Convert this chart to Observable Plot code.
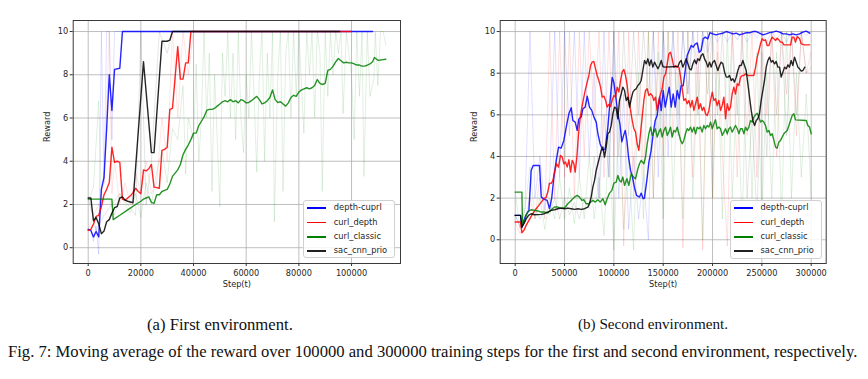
<!DOCTYPE html>
<html><head><meta charset="utf-8">
<script src="https://cdn.jsdelivr.net/npm/d3@7"></script>
<script src="https://cdn.jsdelivr.net/npm/@observablehq/plot@0.6"></script>
<style>
body{margin:0;background:#fff;}
#fig{position:relative;width:868px;height:379px;overflow:hidden;background:#fff;}
.panel{position:absolute;top:0;width:434px;height:300px;}
.legend{position:absolute;background:rgba(255,255,255,0.85);border:1px solid #d0d0d0;border-radius:3px;font:8.3px "DejaVu Sans",sans-serif;color:#262626;box-sizing:border-box;}
.legend .sw{position:absolute;height:1.6px;}
.legend .lb{position:absolute;white-space:nowrap;line-height:1;}
.cap{position:absolute;font-family:"Liberation Serif","Times New Roman",serif;white-space:nowrap;color:#111;line-height:1;}
</style></head><body><div id="fig"></div>
<script>
// ---------- data ----------
const seriesNames = ["depth-cuprl","curl_depth","curl_classic","sac_cnn_prio"];
const seriesColors = ["#0000ff","#ff0000","#008000","#000000"];
const yTicks = [0,2,4,6,8,10];
const xTicksA = [0,20000,40000,60000,80000,100000];
const xTicksB = [0,50000,100000,150000,200000,250000,300000];

// (a) First environment - moving averages
const blueA = [[0,0.85],[1000,0.8],[2000,0.5],[3000,0.75],[4000,0.5],[5000,2.7],[6000,3.25],[7000,5.5],[8000,8.0],[9000,6.35],[10000,8.25],[12000,8.3],[13000,10],[108000,10]];
const redA = [[0,0.8],[1000,0.85],[2000,1.1],[3000,1.45],[4000,1.5],[5000,1.9],[6000,2.45],[7000,2.7],[8000,3.0],[9000,4.65],[10000,3.95],[11000,4.0],[12000,3.95],[13000,2.25],[14000,2.2],[15000,2.3],[16000,2.4],[17000,2.55],[18000,2.75],[19000,2.6],[20000,2.5],[21000,3.6],[22000,3.55],[23000,3.65],[24000,3.85],[25000,2.8],[26000,2.78],[27000,2.75],[28000,4.5],[29000,4.55],[30000,4.65],[31000,6.4],[32000,6.45],[34000,9.3],[35000,7.8],[36000,7.8],[37000,8.55],[38000,8.55],[39000,10],[100000,10]];
const greenA = [[0,2.25],[9000,2.25],[9500,1.3],[12000,1.5],[15000,1.75],[18000,2.0],[20000,2.15],[21000,2.25],[22000,2.3],[23000,2.35],[24000,2.1],[25000,2.05],[26000,2.45],[27000,2.45],[28000,2.6],[29000,2.65],[30000,2.7],[31000,2.95],[32000,3.3],[33000,3.45],[34000,3.6],[35000,3.85],[36000,4.3],[37000,4.55],[38000,4.75],[39000,5.0],[40000,5.3],[41000,5.3],[42000,5.65],[43000,5.85],[44000,6.05],[45000,6.35],[46000,6.4],[47000,6.4],[48000,6.45],[49000,6.55],[50000,6.65],[51000,6.75],[52000,6.8],[53000,6.75],[54000,6.85],[55000,6.75],[56000,6.8],[57000,6.7],[58000,6.85],[59000,6.8],[60000,6.7],[61000,6.72],[62000,6.8],[63000,6.9],[64000,7.0],[65000,6.85],[66000,6.65],[67000,6.7],[68000,6.8],[69000,6.95],[70000,7.3],[71000,6.85],[72000,6.72],[73000,6.75],[74000,6.65],[75000,6.55],[76000,6.7],[77000,6.95],[78000,7.05],[79000,7.0],[80000,7.2],[81000,7.3],[82000,7.35],[83000,7.4],[84000,7.35],[85000,7.4],[86000,7.5],[87000,7.78],[88000,7.6],[89000,7.55],[90000,7.6],[91000,8.2],[92000,8.25],[93000,8.4],[94000,8.6],[95000,8.75],[96000,8.65],[97000,8.55],[98000,8.58],[99000,8.55],[100000,8.55],[101000,8.5],[102000,8.45],[103000,8.45],[104000,8.4],[105000,8.4],[106000,8.45],[107000,8.5],[108000,8.6],[108700,8.8],[110000,8.67],[111000,8.68],[112000,8.7],[113000,8.72]];
const blackA = [[0,2.3],[1000,2.3],[2000,1.25],[3000,1.4],[4000,1.1],[5000,0.65],[6000,0.77],[7000,1.2],[8000,1.3],[9000,1.6],[10000,1.85],[11000,1.9],[12000,2.3],[13000,2.35],[14000,2.2],[15000,2.15],[17000,2.08],[21000,8.6],[24000,4.4],[25000,4.4],[28000,9.55],[30000,9.55],[31000,9.6],[32000,10],[95500,10]];

// (a) raw rewards (faint)
const blueRawA = [[0,0.8],[1000,0.8],[2000,0.3],[3000,1.0],[4000,-0.3],[5000,10],[6000,3.0],[7000,10],[8000,10],[9000,5.0],[10000,10],[13000,10]];
const redRawA = [[0,0.8],[2000,1.5],[4000,2.0],[6000,3.0],[8000,10],[9000,2.5],[10000,4.0],[12000,2.0],[14000,3.0],[16000,2.0],[18000,3.5],[20000,2.5],[22000,4.0],[24000,2.5],[26000,3.0],[28000,6.0],[30000,4.0],[32000,10],[34000,6.0],[36000,10],[38000,8.0],[40000,10]];
const blackRawA = [[0,2.3],[3000,0.8],[6000,1.5],[9000,2.0],[12000,2.5],[15000,2.0],[18000,1.5],[20000,10],[22000,2.0],[24000,4.0],[27000,10],[30000,9.0],[32000,10]];
const greenRawA = [[0,2.2],[2000,2.8],[4000,6.8],[5000,2.2],[8000,2.3],[10000,1.5],[12000,2.5],[14000,2.0],[16000,1.6],[18000,2.5],[20000,1.4],[22000,3.0],[24000,2.0],[26000,3.5],[28000,4.5],[30000,3.0],[32000,5.5],[34000,5.0],[36000,7.5],[37000,3.4],[38000,6.0],[40000,5.0],[41000,8.5],[42000,4.0],[43000,6.0],[44000,10],[45000,6.0],[46000,9.0],[47000,2.6],[48000,8.0],[49000,5.0],[50000,1.9],[51000,9.0],[52000,7.0],[53000,10],[54000,6.0],[55000,9.0],[56000,5.0],[57000,10],[58000,6.0],[59000,4.4],[60000,8.0],[61000,6.0],[62000,10],[63000,7.0],[64000,3.5],[65000,8.0],[66000,10],[67000,4.0],[68000,9.0],[69000,6.0],[70000,10],[70700,1.2],[72000,8.0],[73000,10],[74000,2.6],[75000,9.0],[76000,10],[77000,6.0],[78000,10],[79000,7.0],[80000,10],[81900,5.3],[83000,10],[84000,8.0],[85000,10],[86000,6.0],[87000,10],[88000,9.0],[88900,2.6],[90000,10],[91000,7.0],[92000,10],[93000,8.0],[94000,10],[95000,9.0],[96000,10],[96800,6.2],[98000,10],[99000,9.0],[100000,8.0],[101000,5.0],[102000,10],[103000,7.0],[104000,10],[104700,3.3],[106000,10],[107000,7.0],[108500,7.8],[109000,10],[110000,7.5],[111000,10],[112000,10],[113000,9.4]];

// (b) Second environment - moving averages
const blueB = [[0,1.17],[5400,1.17],[6800,0.6],[8800,0.93],[11000,1.2],[13900,1.4],[16200,3.33],[18200,3.57],[24700,3.57],[26400,2.05],[29700,1.94],[32400,1.89],[34800,1.49],[37000,2.0],[39200,3.0],[41600,3.8],[43900,4.45],[46600,4.4],[49300,4.77],[51700,5.4],[54400,6.05],[56800,6.34],[58400,5.73],[60800,5.65],[62800,5.25],[64500,5.8],[66900,5.9],[68600,6.29],[70900,6.37],[73000,6.9],[75300,6.37],[77700,6.2],[79700,5.9],[82100,5.65],[83800,5.1],[86100,4.6],[88900,4.3],[91200,4.37],[93900,5.4],[96300,6.75],[98300,7.8],[100000,7.55],[102400,6.7],[104000,6.05],[106100,5.57],[108100,4.7],[109800,5.0],[111500,5.25],[113200,4.77],[114900,3.97],[116900,3.33],[118900,3.0],[120900,2.5],[123000,2.13],[126000,2.05],[127700,2.24],[129700,1.97],[131000,2.0],[133400,2.85],[135500,3.73],[137800,4.29],[139900,5.1],[141900,5.73],[143900,5.97],[146300,6.85],[148000,6.2],[150000,7.17],[152000,6.37],[154000,6.85],[156100,7.33],[158100,6.37],[160100,7.0],[162200,6.37],[164200,7.17],[166200,6.77],[168200,7.4],[170300,7.4],[172300,8.13],[174300,8.85],[176400,9.09],[178400,9.33],[180400,9.25],[182400,9.4],[184500,9.45],[186500,9.0],[188500,9.09],[190500,9.65],[192600,9.73],[195300,9.65],[197300,9.94],[200300,9.89],[203700,9.84],[207000,9.89],[210500,9.92],[213900,10.0],[217200,9.95],[220600,9.89],[224000,9.92],[227400,9.84],[230700,9.89],[234100,9.94],[237500,9.94],[240900,10.0],[244300,10.0],[247600,9.92],[251000,9.84],[254400,9.89],[257800,9.95],[261100,9.97],[264500,10.02],[267900,9.97],[271300,9.89],[274700,9.89],[278000,9.84],[281400,9.89],[284800,9.84],[288200,9.89],[291600,9.97],[295000,10.02],[298500,9.92]];
const redB = [[0,0.85],[5400,0.85],[6800,0.34],[8800,0.45],[11100,0.69],[13900,0.93],[16200,1.12],[18900,1.33],[21300,1.49],[24000,1.65],[26400,1.81],[29100,1.97],[31400,2.05],[33100,2.29],[34800,2.72],[36500,2.7],[38200,2.85],[39900,3.25],[41900,3.65],[43900,3.49],[45900,4.05],[47600,3.97],[49300,3.65],[51000,3.73],[52700,3.49],[54400,3.84],[56100,3.25],[57800,3.81],[59500,3.65],[60800,3.25],[62500,3.97],[64200,5.09],[65900,5.89],[67600,6.37],[69600,6.85],[71300,7.25],[73000,7.57],[74700,7.89],[76400,8.37],[78000,8.53],[79700,8.56],[81400,8.21],[83100,7.89],[84800,7.65],[86500,7.33],[88200,6.85],[89900,6.9],[91600,6.69],[93200,6.37],[94900,6.5],[96600,6.4],[98300,6.7],[100000,6.93],[101700,6.85],[103400,7.33],[105100,7.1],[106800,7.65],[108400,8.05],[110100,8.18],[111800,7.89],[113500,7.41],[115200,6.69],[116900,6.21],[118600,5.73],[120300,5.33],[122000,5.17],[123600,4.61],[125300,4.29],[127000,5.09],[128700,5.89],[130400,6.69],[132100,7.17],[133800,7.25],[135500,6.93],[137200,7.01],[138900,6.93],[140500,6.69],[142200,6.85],[143900,6.21],[145600,6.69],[147300,7.0],[149000,7.25],[150700,7.81],[152400,7.97],[154100,8.45],[155700,8.93],[157400,9.01],[159100,8.69],[160800,8.29],[162500,8.37],[164200,8.29],[165900,8.29],[167600,7.81],[169300,7.25],[170900,6.69],[172600,6.77],[174300,6.53],[176000,6.69],[177700,6.37],[179400,6.69],[181100,6.21],[182800,6.53],[184500,6.85],[186100,6.29],[187800,6.53],[189500,6.21],[191200,6.37],[192900,6.05],[194600,5.97],[196300,6.21],[198000,6.69],[199700,7.09],[201400,6.69],[203000,6.77],[204700,6.45],[206400,6.69],[208100,6.21],[209800,6.45],[211500,6.85],[213200,5.81],[214900,6.53],[216600,6.21],[218200,6.37],[219900,7.0],[221600,7.33],[223300,7.0],[225000,7.49],[226700,7.41],[228400,7.81],[230100,7.89],[231800,7.89],[233400,7.97],[235800,7.89],[239200,7.89],[241900,7.89],[243600,8.29],[245300,8.77],[247000,9.09],[248600,9.41],[250300,9.65],[252000,9.57],[253700,9.6],[255400,9.33],[257100,9.33],[258800,9.57],[260500,9.73],[262200,9.65],[263900,9.57],[265500,9.68],[267200,9.6],[268900,9.49],[270600,9.49],[272300,9.36],[275700,9.36],[279100,9.36],[280700,9.73],[282400,9.73],[284100,9.49],[285800,9.76],[288200,9.65],[289900,9.41],[293200,9.36],[298500,9.36]];
const greenB = [[0,2.29],[6800,2.29],[7400,0.69],[9500,0.85],[11100,1.17],[12800,1.36],[16200,1.44],[19600,1.41],[23000,1.38],[26400,1.33],[29700,1.33],[33100,1.3],[36500,1.44],[39900,1.57],[43200,1.57],[46600,1.52],[50000,1.54],[53400,1.73],[56800,1.89],[60100,2.05],[62800,2.13],[65200,2.05],[67600,1.89],[69600,1.92],[71900,1.73],[74300,1.73],[76400,1.81],[78700,1.89],[81100,1.81],[83800,1.92],[86100,1.81],[88900,1.97],[91200,1.68],[93200,1.97],[95600,2.24],[98000,2.37],[100000,2.72],[102400,2.77],[104000,3.09],[105700,2.85],[107400,2.77],[109100,3.01],[110800,2.61],[113200,2.93],[115200,2.61],[117600,3.17],[119900,3.01],[122000,2.93],[124300,3.41],[126000,3.65],[127700,3.81],[130400,3.65],[132100,3.97],[133800,4.61],[135500,5.09],[137200,5.41],[138900,5.01],[140500,5.17],[142200,5.33],[143900,4.93],[145600,5.17],[147300,5.33],[149000,4.93],[150700,5.25],[152400,5.41],[154100,5.01],[155700,5.17],[157400,5.41],[159100,4.93],[160800,5.25],[162500,5.17],[164200,5.41],[165900,5.09],[167600,4.77],[169300,4.61],[170900,4.77],[172600,5.09],[174300,5.33],[176000,5.25],[177700,5.41],[179400,5.17],[181100,5.41],[182800,5.09],[184500,5.41],[186100,5.33],[187800,5.41],[189500,5.17],[191200,5.49],[192900,5.33],[194600,5.49],[196300,5.41],[198000,5.65],[199700,5.33],[201400,5.57],[203000,5.76],[204700,5.33],[206400,5.41],[208100,5.33],[209800,5.01],[211500,5.17],[213200,5.33],[214900,5.09],[216600,5.33],[218200,5.41],[219900,5.17],[221600,5.33],[223300,5.49],[225000,5.33],[226700,5.09],[228400,5.33],[230100,5.33],[231800,5.09],[233400,5.41],[235100,5.25],[236800,5.41],[238500,5.73],[240200,5.65],[241900,5.89],[243600,6.0],[245300,6.08],[247000,5.89],[248600,5.65],[250300,5.73],[252000,5.65],[253700,5.49],[255400,5.17],[257100,5.25],[258800,5.01],[260500,5.09],[262200,4.77],[263900,4.45],[265500,4.4],[267200,4.69],[268900,4.77],[270600,4.93],[272300,5.09],[274000,5.17],[275700,5.25],[277400,5.49],[279100,5.73],[280700,5.97],[282400,6.05],[284100,5.76],[295000,5.73],[296600,5.49],[298300,5.41],[300000,5.09]];
const blackB = [[0,1.17],[5400,1.17],[6800,0.6],[8800,0.77],[11100,1.0],[13500,1.17],[16200,1.25],[19600,1.2],[26400,1.22],[29700,1.25],[33100,1.33],[36500,1.41],[39900,1.44],[43200,1.49],[46600,1.52],[50000,1.49],[53400,1.52],[56800,1.49],[60100,1.46],[63500,1.49],[66900,1.46],[70300,1.49],[73600,1.57],[75300,1.73],[77000,2.05],[78700,2.53],[80400,2.85],[82100,3.33],[83800,3.65],[85500,3.97],[87200,4.29],[88900,4.45],[90500,3.97],[92200,4.45],[93900,5.09],[95600,5.17],[97300,5.49],[99000,6.05],[100700,6.37],[102400,6.3],[104000,5.81],[105700,6.69],[107400,7.0],[109100,7.33],[110800,7.17],[112500,6.69],[114200,6.85],[115900,6.37],[117600,6.77],[119300,7.09],[120900,7.2],[122600,7.25],[124300,7.41],[126000,7.49],[127700,7.65],[129400,8.13],[131100,8.61],[132800,8.45],[134500,8.69],[136100,8.37],[137800,8.64],[139500,8.29],[141200,8.53],[142900,8.37],[144600,8.21],[146300,8.37],[148000,8.61],[149700,8.32],[151400,8.29],[164900,8.32],[166600,8.53],[168200,8.61],[169900,8.29],[171600,8.48],[173300,8.69],[175000,8.45],[176700,8.21],[178400,8.16],[180100,8.45],[181800,8.64],[183500,8.45],[185100,8.69],[186800,8.61],[188500,8.85],[190200,8.93],[191900,8.69],[193600,8.53],[195300,8.29],[197000,8.53],[198600,8.29],[200300,8.53],[202000,8.61],[203700,8.37],[205400,8.13],[207100,8.37],[208800,8.53],[210500,8.45],[212200,8.05],[213900,7.81],[215500,7.81],[217200,7.89],[218900,7.65],[220600,7.73],[222300,7.57],[224000,7.81],[225700,8.13],[227400,8.37],[229100,8.37],[230700,8.61],[232400,8.37],[234100,8.13],[235800,7.49],[237500,6.85],[239200,6.21],[240900,5.73],[242600,5.49],[244300,5.73],[245900,5.81],[247600,6.05],[249300,6.69],[251000,7.17],[252700,7.65],[254400,8.29],[256100,8.61],[257800,8.77],[259500,8.53],[261100,8.61],[262800,8.45],[264500,8.56],[266200,8.29],[267900,8.29],[269600,7.81],[271300,8.05],[273000,8.29],[274700,8.21],[276400,8.4],[278000,8.29],[279700,8.61],[281400,8.37],[283100,8.77],[284800,8.53],[286500,8.29],[288200,8.21],[289900,8.1],[291600,8.13],[293500,8.29]];

// (b) raw rewards (faint), sampled steps
const rawStepsB = [0,5000,10000,15000,20000,25000,30000,35000,40000,45000,50000,55000,60000,65000,70000,75000,80000,85000,90000,95000,100000,105000,110000,115000,120000,125000,130000,135000,140000,145000,150000,155000,160000,165000,170000,175000,180000,185000,190000,195000,200000,205000,210000,215000,220000,225000,230000,235000,240000,245000,250000,255000,260000,265000,270000,275000,280000,285000,290000,295000,300000];
const blueRawB = [1.2,0.6,1.5,10,2,4,1.5,3,10,3,10,5,10,3,10,4,8,2,10,3,10,2,7,0.5,4,1,3,0,10,3,10,4,10,5,10,7,10,8,10,9,10,9.5,10,9.5,10,9.6,10,9.5,10,9.7,10,9.5,10,9.6,10,9.5,10,9.6,10,9.8,10];
const redRawB = [0.8,0.3,1,2,1,3,1,10,2,10,3,10,2,10,4,10,6,10,3,10,4,10,-0.3,10,2,10,3,10,2,10,4,10,5,10,-0.4,10,3,10,-0.5,10,2,10,4,-0.3,10,3,10,5,10,3,10,6,10,4,10,7,10,5,10,8,9];
const greenRawB = [2.3,0.5,1.5,3.5,1,2,0.5,2,1,3,1,2.5,0.8,3,1,4,1,3,0.2,5,-0.5,6,0.5,4,-0.5,8,1,10,2,9,1,10,2,8,1,10,2,8,0,10,2,9,1,10,2,8,0.5,10,2,9,1,8,2,9,1,10,2,8,3,7,2];
const blackRawB = [1.2,0.6,1.2,1,1.5,1,1.5,1.2,2,1,2,1.2,1.8,1,2,1.5,4,2,6,3,10,4,10,5,10,6,10,7,10,5,10,7,10,6,10,7,10,6,10,7,10,6,10,5,10,6,10,2,6,1,9,4,10,6,10,5,10,6,10,8,8.3];

// ---------- drawing ----------
const px = d => d[0], py = d => d[1];
function rawPairs(xs, ys) { return xs.map((x, i) => [x, ys[i]]); }

function makePanel(cfg) {
  const raws = cfg.raw.map((r, i) => Plot.line(r, {x: px, y: py, stroke: seriesColors[i], strokeWidth: 1, strokeOpacity: cfg.rawOpacity[i]}));
  const mains = cfg.main.map((m, i) => Plot.line(m, {x: px, y: py, stroke: seriesColors[i], strokeWidth: 1.4, strokeOpacity: 0.85}));
  return Plot.plot({
    width: 434, height: 300,
    marginLeft: cfg.ml, marginRight: cfg.mr, marginTop: 20, marginBottom: 37,
    style: {fontFamily: '"DejaVu Sans", sans-serif', fontSize: "8.2px", color: "#262626", background: "transparent", overflow: "visible"},
    x: {domain: cfg.xd},
    y: {domain: cfg.yd},
    marks: [
      Plot.gridX(cfg.xt, {stroke: "#b0b0b0", strokeOpacity: 0.9, strokeWidth: 0.9}),
      Plot.gridY(yTicks, {stroke: "#b0b0b0", strokeOpacity: 0.9, strokeWidth: 0.9}),
      ...raws,
      ...mains,
      Plot.axisX(cfg.xt, {tickFormat: d3.format("d"), tickSize: 3, tickPadding: 4, label: null, stroke: "#333"}),
      Plot.axisY(yTicks, {tickFormat: d3.format("d"), tickSize: 3, tickPadding: 2, label: null, stroke: "#333"}),
      Plot.frame({stroke: "#3a3a3a", strokeWidth: 1}),
      Plot.text(["Reward"], {frameAnchor: "left", dx: -26, rotate: -90, fill: "#262626"}),
      Plot.text(["Step(t)"], {frameAnchor: "bottom", dy: 23, fill: "#262626"})
    ]
  });
}

function makeLegend(left, top, w, h) {
  const lg = document.createElement("div");
  lg.className = "legend";
  Object.assign(lg.style, {left: left + "px", top: top + "px", width: w + "px", height: h + "px"});
  seriesNames.forEach((name, i) => {
    const cy = 7.2 + i * 14.35;
    const sw = document.createElement("div");
    sw.className = "sw";
    Object.assign(sw.style, {left: "2.5px", width: "19px", top: (cy - 0.8) + "px", background: i === 3 ? "#222222" : seriesColors[i]});
    const lb = document.createElement("div");
    lb.className = "lb";
    lb.textContent = name;
    Object.assign(lb.style, {left: "29.5px", top: (cy - 5) + "px"});
    lg.append(sw, lb);
  });
  return lg;
}

const fig = document.getElementById("fig");

const pA = document.createElement("div"); pA.className = "panel"; pA.style.left = "0px";
pA.append(makePanel({
  ml: 72.7, mr: 34, xd: [-5700, 118600], yd: [-0.73, 10.51], xt: xTicksA,
  main: [blueA, redA, greenA, blackA],
  raw: [blueRawA, redRawA, greenRawA, blackRawA],
  rawOpacity: [0.12, 0.1, 0.12, 0.1]
}));
pA.append(makeLegend(303.3, 200, 91.7, 58.3));

const pB = document.createElement("div"); pB.className = "panel"; pB.style.left = "434px";
pB.append(makePanel({
  ml: 65.7, mr: 42.3, xd: [-15200, 315200], yd: [-1.14, 10.53], xt: xTicksB,
  main: [blueB, redB, greenB, blackB],
  raw: [rawPairs(rawStepsB, blueRawB), rawPairs(rawStepsB, redRawB), rawPairs(rawStepsB, greenRawB), rawPairs(rawStepsB, blackRawB)],
  rawOpacity: [0.12, 0.12, 0.12, 0.1]
}));
pB.append(makeLegend(296, 200, 91.7, 59));
fig.append(pA, pB);

// captions
function caption(text, left, width, cy) {
  const s = document.createElement("div");
  s.className = "cap";
  s.textContent = text;
  s.style.fontSize = "14px";
  fig.append(s);
  const w = s.getBoundingClientRect().width;
  const fs = 14 * width / w;
  s.style.fontSize = fs + "px";
  s.style.left = left + "px";
  s.style.top = (cy - fs * 0.5) + "px";
}
caption("(a) First environment.", 147, 146, 325);
caption("(b) Second environment.", 578, 150, 325);
caption("Fig. 7: Moving average of the reward over 100000 and 300000 training steps for the first and second environment, respectively.", 8, 850, 352);
</script></body></html>
